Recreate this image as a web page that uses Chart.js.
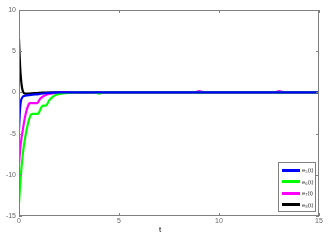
<!DOCTYPE html>
<html>
<head>
<meta charset="utf-8">
<script src="https://cdn.jsdelivr.net/npm/chart.js@4"></script>
<style>
  html, body { margin: 0; padding: 0; background: #fff; }
  #wrap { position: relative; width: 330px; height: 243px; }
  #legend {
    position: absolute; left: 278px; top: 162px; width: 38px; height: 50px;
    border: 1px solid #7f7f7f; background: #fff; box-sizing: border-box;
    font: 6px "Liberation Sans", Arial, sans-serif; color: #333;
  }
  #legend .row { position: absolute; left: 3px; height: 10px; line-height: 10px; white-space: nowrap; }
  #legend .sw { display: inline-block; width: 18px; height: 3px; vertical-align: middle; margin-right: 2px; }
  #xlabel { position: absolute; left: 159px; top: 225px; font: 8px "Liberation Sans", Arial, sans-serif; color: #000; }
</style>
</head>
<body>
<div id="wrap">
  <canvas id="chart" width="330" height="243"></canvas>
  <div id="legend"></div>
  <div id="xlabel">t</div>
</div>
<script>
// dados (tempo t e erro e_i(t))
const t5 = [0, 0.03, 0.06, 0.1, 0.2, 0.3, 0.6, 1.0, 1.5, 2.0, 15];
const e5 = [-4.5, -3.0, -1.8, -1.0, -0.5, -0.4, -0.3, -0.2, -0.05, 0, 0];

const t6 = [0, 0.05, 0.1, 0.2, 0.3, 0.4, 0.5, 0.6, 0.7, 0.95, 1.1, 1.2, 1.35, 1.5, 1.7, 1.9, 2.3, 2.8, 3.8, 4.0, 4.2, 15];
const e6 = [-13.4, -11.5, -9.8, -7.3, -5.6, -4.3, -3.3, -2.7, -2.6, -2.6, -1.9, -1.6, -1.6, -1.0, -0.5, -0.25, -0.1, 0, 0, -0.15, 0, 0];

const t7 = [0, 0.05, 0.1, 0.2, 0.3, 0.4, 0.5, 0.55, 0.9, 1.05, 1.2, 1.4, 1.7, 2.2, 8.8, 9.0, 9.3, 12.8, 13.0, 13.3, 15];
const e7 = [-8.7, -7.2, -6.0, -4.4, -3.0, -2.0, -1.4, -1.3, -1.3, -0.8, -0.5, -0.25, -0.1, 0, 0, 0.15, 0, 0, 0.15, 0, 0];

const t8 = [0, 0.03, 0.06, 0.1, 0.15, 0.2, 0.3, 0.5, 1.0, 2.0, 15];
const e8 = [6.5, 4.5, 3.0, 1.6, 0.6, 0.1, -0.15, -0.15, -0.05, 0, 0];

const seriesLabels = ['e₅(t)', 'e₆(t)', 'e₇(t)', 'e₈(t)'];
const seriesColors = ['#0000ff', '#00ff00', '#ff00ff', '#000000'];
const xTicks = [0, 5, 10, 15];
const yTicks = [-15, -10, -5, 0, 5, 10];

function pts(ts, es) {
  return ts.map((t, i) => ({ x: t, y: es[i] }));
}

const allT = [t5, t6, t7, t8];
const allE = [e5, e6, e7, e8];

// moldura e marcas de escala para dentro (estilo MATLAB)
const framePlugin = {
  id: 'frame',
  afterDraw(chart) {
    const { ctx, chartArea: a, scales } = chart;
    ctx.save();
    ctx.strokeStyle = '#7f7f7f';
    ctx.lineWidth = 1;
    ctx.strokeRect(a.left + 0.5, a.top + 0.5, a.right - a.left - 1, a.bottom - a.top - 1);
    ctx.beginPath();
    xTicks.forEach(v => {
      const x = Math.round(scales.x.getPixelForValue(v)) + 0.5;
      ctx.moveTo(x, a.bottom); ctx.lineTo(x, a.bottom - 3);
      ctx.moveTo(x, a.top); ctx.lineTo(x, a.top + 3);
    });
    yTicks.forEach(v => {
      const y = Math.round(scales.y.getPixelForValue(v)) + 0.5;
      ctx.moveTo(a.left, y); ctx.lineTo(a.left + 3, y);
      ctx.moveTo(a.right, y); ctx.lineTo(a.right - 3, y);
    });
    ctx.stroke();
    ctx.restore();
  }
};

new Chart(document.getElementById('chart'), {
  type: 'line',
  data: {
    datasets: seriesLabels.map((lab, i) => ({
      label: lab,
      data: pts(allT[i], allE[i]),
      borderColor: seriesColors[i],
      borderWidth: 2.2,
      pointRadius: 0,
      fill: false,
      cubicInterpolationMode: 'monotone'
    }))
  },
  options: {
    responsive: false,
    animation: false,
    layout: { padding: { top: 10, right: 11, left: 0, bottom: 0 } },
    plugins: { legend: { display: false }, tooltip: { enabled: false } },
    scales: {
      x: {
        type: 'linear', min: 0, max: 15,
        afterBuildTicks: s => { s.ticks = xTicks.map(v => ({ value: v })); },
        afterFit: s => { s.height = 27; },
        grid: { display: false, drawTicks: false },
        border: { display: false },
        ticks: { color: '#666', font: { family: 'Liberation Sans', size: 7 }, padding: 1, maxRotation: 0 }
      },
      y: {
        type: 'linear', min: -15, max: 10,
        afterBuildTicks: s => { s.ticks = yTicks.map(v => ({ value: v })); },
        afterFit: s => { s.width = 19; },
        grid: { display: false, drawTicks: false },
        border: { display: false },
        ticks: { color: '#666', font: { family: 'Liberation Sans', size: 7 }, padding: 3 }
      }
    }
  },
  plugins: [framePlugin]
});

// legenda dentro do gráfico
const legend = document.getElementById('legend');
seriesLabels.forEach((lab, i) => {
  const row = document.createElement('div');
  row.className = 'row';
  row.style.top = (2 + i * 11.5) + 'px';
  row.innerHTML = '<span class="sw" style="background:' + seriesColors[i] + '"></span>' + lab;
  legend.appendChild(row);
});
</script>
</body>
</html>
